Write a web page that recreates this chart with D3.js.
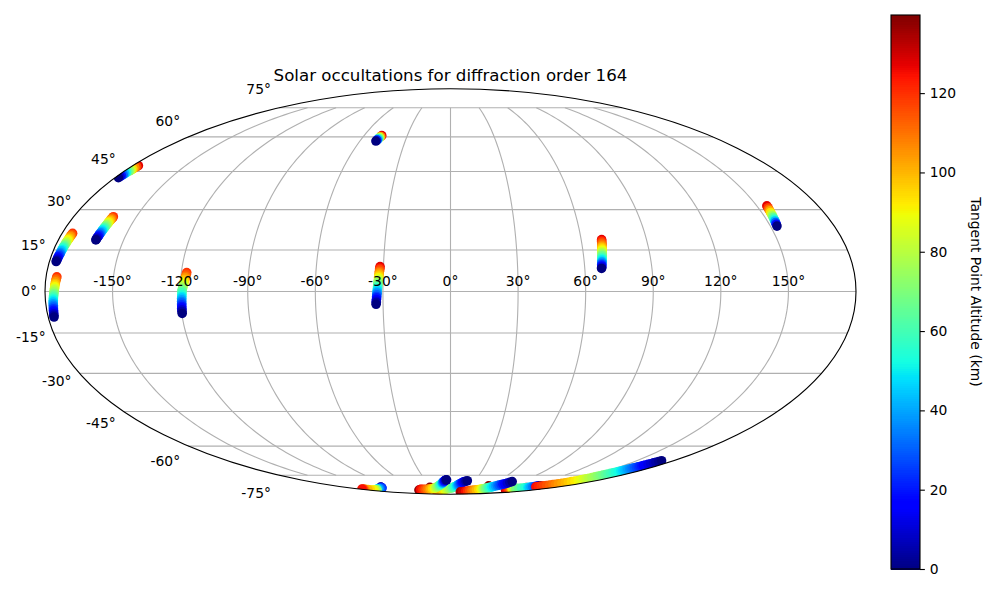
<!DOCTYPE html>
<html><head><meta charset="utf-8">
<script src="https://cdn.jsdelivr.net/npm/d3@7/dist/d3.min.js"></script>
<style>html,body{margin:0;padding:0;background:#fff}svg{display:block}text{font-family:"DejaVu Sans",sans-serif;fill:#000}</style>
</head><body><svg id="c" width="998" height="592"></svg>
<script>
const titleText = "Solar occultations for diffraction order 164";
const colorbarLabel = "Tangent Point Altitude (km)";
const altMax = 139.7;
const colorbarTicks = [0,20,40,60,80,100,120];
const latTicks = [-75,-60,-45,-30,-15,0,15,30,45,60,75];
const lonTicks = [-150,-120,-90,-60,-30,0,30,60,90,120,150];

const alt5 = [0,5,10,15,20,25,30,35,40,45,50,55,60,65,70,75,80,85,90,95,100,105,110,115,120];
const alt5b = [0,5,10,15,20,25,30,35,40,45,50,55,60,65,70,75,80,85,90,95,100,105,110,115,120,125,130];
const alt5c = [0,5,10,15,20,25,30,35,40,45,50,55,60,65,70,75,80,85,90,95,100,105,110,115,120,125,130,139];
const alt5d = [0,5,10,15,20,25,30,35,40,45,50,55,60,65,70,75,80,85,90,95,100,105,110,115,120,125,130,135];
const alt5e = [0,5,10,15,20,25,30,35,40,45,50,55,60,65,70,75,80,85,90,95,100,105,110,115,120,125];
const alt2 = [0,2.5,5,7.5,10,12.5,15,17.5,20,22.5,25,27.5,30,32.5,35,37.5,40,42.5,45,47.5,50,52.5,55,57.5,60,62.5,65,67.5,70,72.5,75,77.5,80,82.5,85,87.5,90,92.5,95,97.5,100,102.5,105,107.5,110,112.5,115,117.5,120,122.5,125];
const altT4 = [0,10.7,21.3,32,42.7,53.3,64,74.7,85.3,96,106.7,117.3,128];
const altT6 = [0,5.3,10.7,16,21.3,26.7,32,37.3,42.7,48,53.3,58.7,64,69.3,74.7,80,85.3,90.7,96,101.3,106.7,112,117.3,122.7,128];
const altT7 = [0,21,43,64,85,107,128];
const altT8 = [0,10.4,18.5,25,31.4,37.7,44.2,50.4,55.3,60.2,65,69.9,74.7,79.6,84.4,89.3,93.7,97.9,102.2,106.5,110.8,115,119.3,123.7,128];
const altT9 = [0,18.5,31.4,44.2,55.3,65,74.7,84.4,93.7,102.2,110.8,119.3,128];
const altTop = [139,139,139];

const t1Lon = [-177.4,-177.3,-177.2,-177.1,-177.0,-176.9,-176.8,-176.7,-176.7,-176.6,-176.5,-176.4,-176.3,-176.2,-176.1,-176.0,-175.9,-175.8,-175.7,-175.7,-175.6,-175.5,-175.4,-175.3,-175.2];
const t1Lat = [-9.2,-8.6,-8.0,-7.4,-6.8,-6.2,-5.6,-5.0,-4.4,-3.8,-3.2,-2.6,-2.0,-1.4,-0.8,-0.2,0.5,1.1,1.7,2.3,2.9,3.5,4.1,4.7,5.3];
const t2Lon = [-177.0,-176.9,-176.8,-176.8,-176.7,-176.6,-176.5,-176.4,-176.4,-176.3,-176.2,-176.1,-176.1,-176.0,-175.9,-175.8,-175.7,-175.7,-175.6,-175.5,-175.4,-175.3,-175.3,-175.2,-175.1];
const t2Lat = [10.8,11.2,11.6,12.1,12.5,13.0,13.4,13.8,14.2,14.7,15.1,15.6,16.0,16.4,16.8,17.3,17.7,18.1,18.6,19.0,19.4,19.9,20.3,20.7,21.1];
const t3Lon = [-162.8,-162.7,-162.7,-162.6,-162.5,-162.4,-162.4,-162.3,-162.2,-162.1,-162.1,-162.0,-161.9,-161.8,-161.8,-161.7,-161.6,-161.5,-161.5,-161.4,-161.3,-161.2,-161.2,-161.1,-161.0];
const t3Lat = [18.7,19.0,19.4,19.7,20.1,20.5,20.8,21.2,21.5,21.9,22.3,22.6,23.0,23.3,23.7,24.1,24.4,24.8,25.1,25.5,25.9,26.2,26.6,26.9,27.3];
const t4Lon = [-178.2,-178.1,-178.0,-177.8,-177.7,-177.6,-177.5,-177.3,-177.2,-177.1,-177.0,-176.8,-176.7];
const t4Lat = [42.5,42.9,43.3,43.7,44.1,44.5,44.9,45.3,45.7,46.1,46.6,47.0,47.4];
const t5Lon = [-119.8,-119.8,-119.7,-119.7,-119.6,-119.6,-119.5,-119.5,-119.4,-119.4,-119.3,-119.3,-119.2,-119.2,-119.1,-118.9,-118.8,-118.6,-118.5,-118.3,-118.2,-118.0,-117.9,-117.7,-117.6];
const t5Lat = [-7.9,-7.2,-6.6,-6.0,-5.4,-4.8,-4.2,-3.6,-3.0,-2.4,-1.8,-1.2,-0.5,0.1,0.7,1.3,1.9,2.5,3.1,3.7,4.3,4.9,5.5,6.2,6.8];
const t6Lon = [-33.1,-33.0,-33.0,-32.9,-32.8,-32.8,-32.7,-32.6,-32.6,-32.5,-32.4,-32.4,-32.3,-32.2,-32.2,-32.1,-32.0,-32.0,-31.9,-31.8,-31.8,-31.7,-31.6,-31.6,-31.5];
const t6Lat = [-4.6,-4.0,-3.5,-2.9,-2.3,-1.8,-1.2,-0.6,-0.1,0.5,1.1,1.6,2.2,2.8,3.3,3.9,4.5,5.0,5.6,6.2,6.7,7.3,7.9,8.4,9.0];
const t7Lon = [-49.4,-49.1,-48.8,-48.6,-48.3,-48.0,-47.7];
const t7Lat = [58.1,58.5,58.9,59.4,59.8,60.2,60.6];
const t8Lon = [67.5,67.6,67.7,67.7,67.8,67.9,68.0,68.1,68.1,68.2,68.3,68.4,68.5,68.5,68.6,68.7,68.8,68.8,68.9,69.0,69.1,69.2,69.2,69.3,69.4];
const t8Lat = [8.3,8.7,9.2,9.6,10.0,10.5,10.9,11.4,11.8,12.2,12.7,13.1,13.6,14.0,14.4,14.9,15.3,15.8,16.2,16.6,17.1,17.5,18.0,18.4,18.8];
const t9Lon = [153.1,153.3,153.4,153.6,153.7,153.9,154.0,154.2,154.3,154.5,154.6,154.8,154.9];
const t9Lat = [23.8,24.5,25.1,25.7,26.3,27.0,27.6,28.2,28.9,29.5,30.1,30.7,31.4];

const topLon = [-35.5,59.7,132.1];
const topLat = [-83,-81.9,-83.15];
const s1Lon = [-118,-119.1,-120.2,-121.3,-122.4,-123.5,-128.7,-133.8,-139,-144.1,-149.3,-152.6,-155.9,-159.1,-162.4,-163.9,-165.4,-166.8,-168.3,-169.9,-171.6,-173.2,-174,-174.9,-175.7,-176.5];
const s1Lat = [-82.8,-82.95,-83.1,-83.2,-83.35,-83.5,-83.7,-83.9,-84.15,-84.35,-84.55,-84.7,-84.9,-85.05,-85.2,-85.2,-85.15,-85.15,-85.1,-84.9,-84.75,-84.55,-84.5,-84.45,-84.45,-84.4];
const s2Lon = [140.7,140.1,139.5,138.8,138.2,137.6,137,136.5,136,135.4,134.9,131.7,128.5,125.3,122.2,121.5,120.8,120.1,119.5,120.1,120.7,121.3,122,124.2,126.4,128.5,130.7];
const s2Lat = [-81.9,-82,-82.1,-82.15,-82.2,-82.3,-82.4,-82.6,-82.8,-83,-83.15,-83.3,-83.5,-83.65,-83.8,-83.9,-83.95,-84,-84.1,-84.2,-84.3,-84.4,-84.55,-84.8,-85.1,-85.4,-85.7];
const s3Lon = [20.8,19.4,17.9,16.5,15.5,14.5,13.5,12.4,11.4,10.4,9.4,7.5,5.6,3.7,1.8,-1.7,-5.1,-8.6,-12,-16.7,-21.4,-26.1,-29.2,-32.2,-35.3];
const s3Lat = [-78.4,-78.7,-79,-79.3,-79.65,-80.05,-80.4,-80.8,-81.15,-81.5,-81.9,-82.3,-82.7,-83.1,-83.5,-83.75,-84,-84.3,-84.55,-84.95,-85.3,-85.7,-85.8,-85.9,-86];
const s4Lon = [78.5,77.7,76.8,76,74.9,73.9,72.8,71.8,70.7,69.6,68.6,67.8,67.1,66.3,65.5,64.4,63.2,62.1,60.9,58,55.1,52.2,49,45.7,42.4,39.1,33.7,28.4];
const s4Lat = [-78.9,-79.4,-79.9,-80.4,-80.7,-81.0,-81.35,-81.65,-81.95,-82.3,-82.6,-82.9,-83.2,-83.5,-83.8,-83.95,-84.1,-84.25,-84.4,-84.65,-84.95,-85.2,-85.45,-85.7,-85.95,-86.2,-86.5,-86.8];
const s5Lon = [-4.7,-5.4,-6,-6.7,-7.4,-8.1,-8.8,-9.6,-10.3,-11,-11.7,-13.3,-14.9,-16.5,-18.1,-21.1,-24,-27,-30,-34.1,-38.2,-42.3,-46.7,-51.1,-55.5,-59.9,-63.4,-69.6];
const s5Lat = [-77.8,-77.95,-78.05,-78.2,-78.5,-78.8,-79.05,-79.35,-79.6,-79.9,-80.2,-80.6,-81.05,-81.45,-81.9,-82.4,-82.85,-83.35,-83.8,-84,-84.2,-84.4,-84.45,-84.5,-84.5,-84.55,-84.8,-85.2];
const s6Lon = [170,169.6,169.1,168.7,168.3,167.8,167.4,167.05,166.7,166.4,166.05,165.7,165.4,165.05,164.7,164.4,164.05,163.7,163.4,163.05,162.7,162.25,161.8,161.35,160.9,160.45,160,159.55,159.1,158.75,158.4,158.05,157.7,157.35,157,156.65,156.3,155.6,154.9,154.15,153.4,152.7,152,150.7,149.4,148.1,146.8,145.45,144.1,142.8,141.5];
const s6Lat = [-67.1,-67.5,-67.9,-68.25,-68.65,-69,-69.4,-69.65,-69.85,-70.1,-70.3,-70.55,-70.8,-71,-71.25,-71.45,-71.7,-71.9,-72.15,-72.35,-72.6,-72.95,-73.3,-73.6,-73.95,-74.3,-74.6,-74.95,-75.3,-75.65,-76,-76.4,-76.8,-77.15,-77.5,-77.85,-78.2,-78.6,-79,-79.35,-79.7,-80.1,-80.5,-80.75,-81,-81.3,-81.6,-81.85,-82.1,-82.35,-82.6];

const tracks = [
 [t1Lon,t1Lat,alt5],[t2Lon,t2Lat,alt5],[t3Lon,t3Lat,alt5],[t4Lon,t4Lat,altT4],[t5Lon,t5Lat,alt5],
 [t6Lon,t6Lat,altT6],[t7Lon,t7Lat,altT7],[t8Lon,t8Lat,altT8],[t9Lon,t9Lat,altT9],
 [topLon,topLat,altTop],[s1Lon,s1Lat,alt5e,true],[s2Lon,s2Lat,alt5b],[s3Lon,s3Lat,alt5],[s4Lon,s4Lat,alt5d],[s5Lon,s5Lat,alt5c],[s6Lon,s6Lat,alt2]
];

const svg = d3.select("#c");
const R2 = Math.SQRT2;
const x = d3.scaleLinear().domain([-2*R2,2*R2]).range([45,856]);
const y = d3.scaleLinear().domain([-R2,R2]).range([494.25,88.75]);
const rad = Math.PI/180;
function theta(lat){
  const phi = lat*rad;
  if (Math.abs(lat) >= 90) return Math.sign(lat)*Math.PI/2;
  let t = phi;
  for (let i=0;i<60;i++){
    const d = (2*t+Math.sin(2*t)-Math.PI*Math.sin(phi))/(2+2*Math.cos(2*t));
    t -= d; if (Math.abs(d)<1e-9) break;
  }
  return t;
}
function moll(lon,lat){
  const t = theta(lat);
  return [x(2*R2/Math.PI*lon*rad*Math.cos(t)), y(R2*Math.sin(t))];
}
svg.append("clipPath").attr("id","globe").append("ellipse")
  .attr("cx",x(0)).attr("cy",y(0)).attr("rx",x(2*R2)-x(0)).attr("ry",y(0)-y(R2));
const line = d3.line();
const grid = svg.append("g").attr("fill","none").attr("stroke","#b0b0b0").attr("stroke-width",1.11);
latTicks.forEach(lat=>{
  grid.append("path").attr("d",line(d3.range(-180,181,5).map(l=>moll(l,lat))));
});
lonTicks.forEach(lon=>{
  grid.append("path").attr("d",line(d3.range(-75,75.5,1).map(l=>moll(lon,l))));
});

const jetR = d3.scaleLinear().domain([0,.35,.66,.89,1]).range([0,0,1,1,.5]).clamp(true);
const jetG = d3.scaleLinear().domain([0,.125,.375,.64,.91,1]).range([0,0,1,1,0,0]).clamp(true);
const jetB = d3.scaleLinear().domain([0,.11,.34,.65,1]).range([.5,1,1,0,0]).clamp(true);
const norm = d3.scaleLinear().domain([0,altMax]).range([0,1]).clamp(true);
const jet = v=>{const n=norm(v);return d3.rgb(jetR(n)*255,jetG(n)*255,jetB(n)*255).formatRgb();};

const marks = svg.append("g").attr("clip-path","url(#globe)");
tracks.forEach(([lons,lats,alts,ascending])=>{
  const order = d3.range(alts.length);
  if (!ascending) order.reverse();
  const pts = order.map(i=>({p:moll(lons[i],lats[i]),a:alts[i]}));
  marks.append("g").selectAll("circle").data(pts).join("circle")
    .attr("cx",d=>d.p[0]).attr("cy",d=>d.p[1]).attr("r",4.8).attr("fill",d=>jet(d.a));
});

svg.append("ellipse").attr("cx",x(0)).attr("cy",y(0)).attr("rx",x(2*R2)-x(0)).attr("ry",y(0)-y(R2))
  .attr("fill","none").attr("stroke","#000").attr("stroke-width",1.11);

lonTicks.forEach(lon=>{
  svg.append("text").attr("x",moll(lon,0)[0]).attr("y",y(0)-5.5).attr("text-anchor","middle")
    .attr("font-size",13.89).text(lon+"\u00b0");
});
latTicks.forEach(lat=>{
  const t = theta(lat);
  svg.append("text").attr("x",moll(-180,lat)[0]-8).attr("y",y(1.1*R2*Math.sin(t))+4.6)
    .attr("text-anchor","end").attr("font-size",13.89).text(lat+"\u00b0");
});
svg.append("text").attr("x",450.5).attr("y",81).attr("text-anchor","middle").attr("font-size",16.67).text(titleText);

const cbY = d3.scaleLinear().domain([0,altMax]).range([569,15]);
const cbG = svg.append("g").attr("shape-rendering","crispEdges");
cbG.selectAll("rect").data(d3.range(256)).join("rect")
  .attr("x",891).attr("width",29)
  .attr("y",i=>cbY((i+1)/256*altMax)).attr("height",i=>cbY(i/256*altMax)-cbY((i+1)/256*altMax)+1)
  .attr("fill",i=>jet((i+.5)/256*altMax));
svg.append("rect").attr("x",891).attr("y",15).attr("width",29).attr("height",554)
  .attr("fill","none").attr("stroke","#000").attr("stroke-width",1.11);
const cbAxis = d3.axisRight(cbY).tickValues(colorbarTicks).tickSize(4.86).tickPadding(4.86).tickFormat(d3.format("d"));
const ax = svg.append("g").attr("transform","translate(920,0)").call(cbAxis);
ax.select(".domain").remove();
ax.selectAll("line").attr("stroke","#000").attr("stroke-width",1.11);
ax.selectAll("text").attr("font-size",13.89).attr("font-family",'"DejaVu Sans",sans-serif');
svg.append("text").attr("transform","translate(971,292) rotate(90)").attr("text-anchor","middle")
  .attr("font-size",13.89).text(colorbarLabel);
</script></body></html>
